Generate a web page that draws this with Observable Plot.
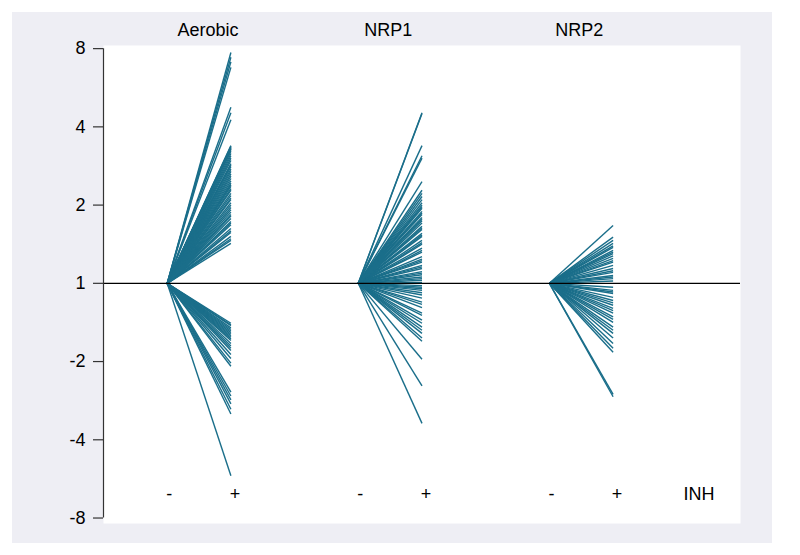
<!DOCTYPE html>
<html>
<head>
<meta charset="utf-8">
<script src="https://cdn.jsdelivr.net/npm/d3@7"></script>
<script src="https://cdn.jsdelivr.net/npm/@observablehq/plot@0.6"></script>
<style>
  html, body { margin: 0; padding: 0; background: #ffffff; }
  #wrap { position: relative; width: 800px; height: 555px; background: #ffffff; }
  #bg { position: absolute; left: 12px; top: 12px; width: 760px; height: 531px; background: #eeeef4; }
  #chart { position: absolute; left: 0; top: 0; }
  #chart svg { background: transparent; }
</style>
</head>
<body>
<div id="wrap"><div id="bg"></div><div id="chart"></div></div>
<script>
// Group names (conditions)
const groups = ["Aerobic", "NRP1", "NRP2"];
// Treatment labels (x categories within each group)
const treatLabels = ["-", "+"];
const treatTitle = "INH";

// log2 fold change (+INH vs -INH) for each gene, per group
const aerobicValues = [
  2.95, 2.89, 2.83, 2.76, 2.25, 2.18, 2.09,
  1.76, 1.75, 1.74, 1.73, 1.72, 1.71, 1.69, 1.66, 1.63, 1.60, 1.57, 1.53,
  1.51, 1.49, 1.46, 1.43, 1.40, 1.37, 1.34, 1.31, 1.28, 1.26, 1.24, 1.21,
  1.19, 1.15, 1.12, 1.09, 1.07, 1.03, 1.00, 0.97, 0.94, 0.91, 0.88, 0.86,
  0.83, 0.79, 0.77, 0.75, 0.70, 0.67, 0.65, 0.60, 0.57, 0.55, 0.51,
  -0.51, -0.53, -0.54, -0.57, -0.59, -0.61, -0.63, -0.65, -0.67, -0.69,
  -0.71, -0.73, -0.77, -0.80, -0.83, -0.86, -0.91, -0.96, -1.02, -1.06,
  -1.39, -1.44, -1.49, -1.54, -1.61, -1.67, -2.46
];
const nrp1Values = [
  2.18, 2.17, 1.76, 1.63, 1.60, 1.30, 1.19, 1.15, 1.11, 1.07, 1.03, 1.00,
  0.98, 0.96, 0.92, 0.90, 0.88, 0.84, 0.82, 0.80, 0.77, 0.73, 0.71, 0.69,
  0.64, 0.62, 0.60, 0.55, 0.52, 0.50, 0.45, 0.42, 0.40, 0.34, 0.31, 0.29,
  0.27, 0.23, 0.21, 0.19, 0.15, 0.13, 0.11, 0.08, 0.06, 0.04, 0.01,
  -0.03, -0.05, -0.07, -0.09, -0.12, -0.15, -0.19, -0.24, -0.27, -0.31,
  -0.38, -0.41, -0.47, -0.51, -0.56, -0.60, -0.64, -0.70, -0.74,
  -0.97, -1.31, -1.79
];
const nrp2Values = [
  0.74, 0.59, 0.55, 0.51, 0.48, 0.46, 0.42, 0.40, 0.38, 0.35, 0.32, 0.29,
  0.27, 0.23, 0.19, 0.16, 0.14, 0.10, 0.08, 0.06, 0.03,
  -0.05, -0.09, -0.11, -0.13, -0.18, -0.22, -0.25, -0.28, -0.32, -0.35,
  -0.38, -0.43, -0.46, -0.50, -0.56, -0.60, -0.64, -0.70, -0.77, -0.83,
  -0.88, -1.42, -1.45
];

// Y axis ticks (log2 scale) and their fold-change labels
const yTickValues = [3, 2, 1, 0, -1, -2, -3];
const yTickLabels = ["8", "4", "2", "1", "-2", "-4", "-8"];

const seriesValues = [aerobicValues, nrp1Values, nrp2Values];

// Build link rows: from "-" (0) to "+" (value)
const links = [];
groups.forEach((g, i) => {
  seriesValues[i].forEach(v => {
    links.push({group: g, x1: 1 + 3 * i, x2: 2 + 3 * i, y1: 0, y2: v});
  });
});
const treatRows = [];
groups.forEach((g, i) => {
  treatLabels.forEach((t, j) => treatRows.push({x: 1 + 3 * i + j, text: t, j}));
});
const titleRows = groups.map((g, i) => ({x: 1.5 + 3 * i, text: g, i}));

const lineColor = "#1a6e8a";
const font = "'Liberation Sans', Arial, Helvetica, sans-serif";

const chart = Plot.plot({
  width: 800,
  height: 555,
  marginLeft: 103,
  marginRight: 60,
  marginTop: 45,
  marginBottom: 32,
  style: {background: "transparent", fontFamily: font, fontSize: "18px", color: "#000"},
  x: {domain: [0, 10], axis: null},
  y: {domain: [-3.07, 3.04], axis: null},
  marks: [
    Plot.frame({fill: "#ffffff", stroke: null}),
    Plot.link(links, {x1: "x1", y1: "y1", x2: "x2", y2: "y2", stroke: lineColor, strokeWidth: 1.4}),
    Plot.ruleY([0], {stroke: "#000", strokeWidth: 1.3}),
    Plot.ruleX([0], {y1: -3, y2: 3, stroke: "#333", strokeWidth: 1.2}),
    Plot.axisY({
      ticks: yTickValues,
      tickFormat: d => yTickLabels[yTickValues.indexOf(d)],
      tickSize: 10,
      tickPadding: 8,
      stroke: "#333",
      strokeWidth: 1.2,
      fontSize: 18,
      fill: "#000",
      label: null
    }),
    Plot.text(titleRows.filter(d => d.i === 0), {x: "x", y: 3.04, dy: -15, dx: 9, text: "text", fontSize: 18, fill: "#000"}),
    Plot.text(titleRows.filter(d => d.i > 0), {x: "x", y: 3.04, dy: -15, dx: -2, text: "text", fontSize: 18, fill: "#000"}),
    Plot.text(treatRows.filter(d => d.j === 0), {x: "x", y: -2.69, dx: 2, text: "text", fontSize: 18, fill: "#000"}),
    Plot.text(treatRows.filter(d => d.j === 1), {x: "x", y: -2.69, dx: 4, text: "text", fontSize: 18, fill: "#000"}),
    Plot.text([treatTitle], {x: 9.35, y: -2.69, text: d => d, fontSize: 18, fill: "#000"})
  ]
});
document.getElementById("chart").appendChild(chart);
</script>
</body>
</html>
